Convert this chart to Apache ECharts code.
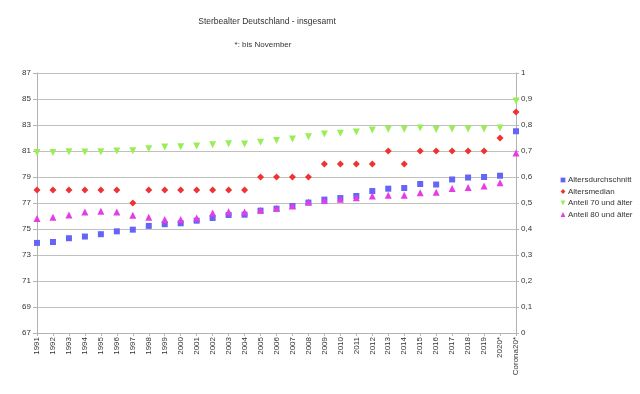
<!DOCTYPE html>
<html><head><meta charset="utf-8">
<script src="https://cdn.jsdelivr.net/npm/echarts@6/dist/echarts.min.js"></script>
<style>html,body{margin:0;padding:0;background:#fff}#c{width:640px;height:394px}</style>
</head><body><div id="c"></div>
<script>
const categories = ['1991','1992','1993','1994','1995','1996','1997','1998','1999','2000','2001','2002','2003','2004','2005','2006','2007','2008','2009','2010','2011','2012','2013','2014','2015','2016','2017','2018','2019','2020*','Corona20*'];
const altersdurchschnitt = [73.93,74.0,74.29,74.42,74.6,74.82,74.95,75.24,75.37,75.44,75.64,75.85,76.08,76.1,76.41,76.56,76.77,77.03,77.26,77.38,77.54,77.92,78.1,78.15,78.46,78.42,78.81,78.96,79.0,79.1,82.52];
const altersmedian = [78,78,78,78,78,78,77,78,78,78,78,78,78,78,79,79,79,79,80,80,80,80,81,80,81,81,81,81,81,82,84];
const anteil70 = [0.694,0.694,0.697,0.696,0.697,0.700,0.701,0.709,0.715,0.716,0.719,0.724,0.728,0.727,0.734,0.740,0.746,0.755,0.765,0.768,0.773,0.781,0.784,0.784,0.788,0.783,0.785,0.785,0.785,0.788,0.892];
const anteil80 = [0.440,0.445,0.454,0.4655,0.468,0.4655,0.4525,0.445,0.437,0.437,0.4425,0.4615,0.4665,0.4655,0.472,0.4795,0.4885,0.504,0.51,0.514,0.5205,0.527,0.5295,0.5295,0.5395,0.541,0.556,0.56,0.565,0.578,0.692];
const seriesNames = ['Altersdurchschnitt','Altersmedian','Anteil 70 und älter','Anteil 80 und älter'];
const titleText = 'Sterbealter Deutschland - insgesamt';
const subtitleText = '*: bis November';

const FONT = 'Liberation Sans';
const lineCol = '#b3b3b3';
const chart = echarts.init(document.getElementById('c'), null, {renderer:'canvas'});
chart.setOption({
  animation: false,
  backgroundColor: '#fff',
  title: [
    {text: titleText, left: 262, top: 12, textAlign: 'center', textStyle:{fontFamily:FONT, fontSize:8.5, fontWeight:'normal', color:'#333'}},
    {text: subtitleText, left: 258, top: 36, textAlign: 'center', textStyle:{fontFamily:FONT, fontSize:8, fontWeight:'normal', color:'#333'}}
  ],
  legend: {
    orient: 'vertical', left: 555, top: 171, itemWidth: 6, itemHeight: 6, itemGap: 3.5,
    symbolRotate: 'inherit',
    textStyle:{fontFamily:FONT, fontSize:8, color:'#333', padding:[0,0,0,-3]},
    data: seriesNames
  },
  grid: {left: 37, right: 124, top: 73, bottom: 61, containLabel: false},
  xAxis: {
    type: 'category', data: categories, boundaryGap: false,
    axisLine:{lineStyle:{color:lineCol}},
    axisTick:{show:true, length:3, interval:0, lineStyle:{color:lineCol}},
    axisLabel:{interval:0, rotate:90, margin:4, fontFamily:FONT, fontSize:8, color:'#333'},
    splitLine:{show:false}
  },
  yAxis: [
    {type:'value', min:67, max:87, interval:2,
     axisLine:{show:true, lineStyle:{color:lineCol}},
     axisTick:{show:true, length:4, lineStyle:{color:lineCol}},
     axisLabel:{margin:6, fontFamily:FONT, fontSize:8, color:'#333'},
     splitLine:{show:true, lineStyle:{color:'#c0c0c0', width:1}}},
    {type:'value', min:0, max:1, interval:0.1, position:'right',
     axisLine:{show:true, lineStyle:{color:lineCol}},
     axisTick:{show:true, length:3, lineStyle:{color:lineCol}},
     axisLabel:{margin:5, fontFamily:FONT, fontSize:8, color:'#333',
       formatter: v => String(+v.toFixed(1)).replace('.', ',')},
     splitLine:{show:false}}
  ],
  series: [
    {name: seriesNames[0], type:'line', yAxisIndex:0, data: altersdurchschnitt, symbol:'rect', symbolSize:6,
     lineStyle:{width:0, opacity:0}, itemStyle:{color:'#6464f5'}, showAllSymbol:true},
    {name: seriesNames[1], type:'line', yAxisIndex:0, data: altersmedian, symbol:'diamond', symbolSize:7,
     lineStyle:{width:0, opacity:0}, itemStyle:{color:'#f03232'}, showAllSymbol:true},
    {name: seriesNames[2], type:'line', yAxisIndex:1, data: anteil70, symbol:'triangle', symbolRotate:180, symbolSize:7,
     lineStyle:{width:0, opacity:0}, itemStyle:{color:'#99ee55'}, showAllSymbol:true},
    {name: seriesNames[3], type:'line', yAxisIndex:1, data: anteil80, symbol:'triangle', symbolSize:7,
     lineStyle:{width:0, opacity:0}, itemStyle:{color:'#e63ce6'}, showAllSymbol:true}
  ]
});
</script></body></html>
